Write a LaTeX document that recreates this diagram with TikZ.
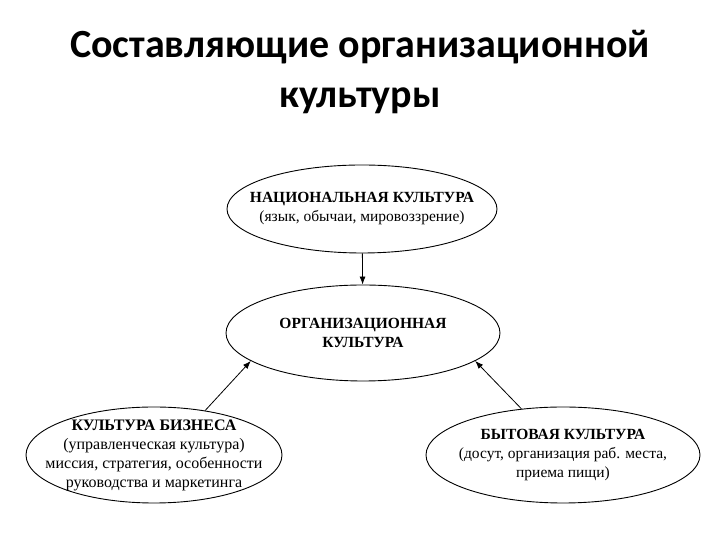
\documentclass[tikz,border=0pt]{standalone}
\usepackage{fontspec}
\setmainfont{Liberation Serif}
\newfontfamily\titlefont{Carlito}
\usetikzlibrary{shapes.geometric,arrows.meta}

\begin{document}
\begin{tikzpicture}[x=1bp, y=1bp,
  oval/.style={ellipse, draw, line width=0.9bp, inner sep=0pt},
  txt/.style={align=center, inner sep=0pt, font=\fontsize{15.5bp}{19bp}\selectfont},
  arr/.style={-{Latex[length=8bp,width=6bp]}, line width=0.8bp},
  ttl/.style={align=center, font=\titlefont\bfseries\fontsize{40bp}{50bp}\selectfont}
]
\useasboundingbox (0,0) rectangle (720,540);

\node[ttl] (title) at (360,468) {Составляющие организационной\\культуры};

% ellipses
\node[oval, minimum width=270bp, minimum height=88bp] (nat)  at (362,331) {};
\node[oval, minimum width=274bp, minimum height=96bp] (org)  at (363,207) {};
\node[oval, minimum width=256bp, minimum height=96bp] (bus)  at (154,85)  {};
\node[oval, minimum width=274bp, minimum height=96bp] (life) at (563,85)  {};

% texts
\node[txt] (natText) at (nat)
  {\textbf{НАЦИОНАЛЬНАЯ КУЛЬТУРА}\\(язык, обычаи, мировоззрение)};
\node[txt] (orgText) at (org)
  {\textbf{ОРГАНИЗАЦИОННАЯ}\\\textbf{КУЛЬТУРА}};
\node[txt, font=\fontsize{16bp}{19bp}\selectfont] (busText) at (bus)
  {\textbf{КУЛЬТУРА БИЗНЕСА}\\(управленческая культура)\\миссия, стратегия, особенности\\руководства и маркетинга};
\node[txt] (lifeText) at (life)
  {\textbf{БЫТОВАЯ КУЛЬТУРА}\\(досут, организация раб. места,\\приема пищи)};

\draw[arr] (nat) -- (org);
\draw[arr] (bus.41) -- (org.194);
\draw[arr] (life.132) -- (org.-14);
\end{tikzpicture}
\end{document}
